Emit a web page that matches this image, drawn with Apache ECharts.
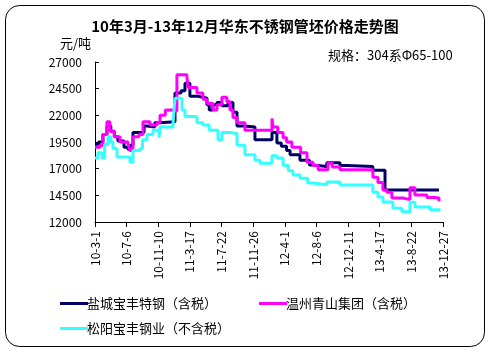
<!DOCTYPE html>
<html>
<head>
<meta charset="utf-8">
<script src="https://cdn.jsdelivr.net/npm/echarts@6/dist/echarts.min.js"></script>
<style>
  html, body { margin: 0; padding: 0; background: #fff; }
  #main { width: 490px; height: 352px; }
</style>
</head>
<body>
<div id="main"></div>
<script>
// x 轴按周计, 每 18 周一个刻度
var tickLabels = ['10-3-1', '10-7-6', '10-11-10', '11-3-17', '11-7-22', '11-11-26',
  '12-4-1', '12-8-6', '12-12-11', '13-4-17', '13-8-22', '13-12-27'];
var names = ['盐城宝丰特钢（含税）', '温州青山集团（含税）', '松阳宝丰钢业（不含税）'];

// [周, 元/吨]
var yancheng = [[0,19300],[2,19500],[4.5,20200],[6.8,21000],[9,20500],[11,20000],[13,19600],[16.5,19000],
  [18.8,18800],[20,19200],[21.6,20400],[27.9,21000],[29.6,20900],[34,21300],[37,21400],[45.5,24100],
  [49,24300],[51.2,25000],[54,23800],[58,23700],[61.4,23600],[63.7,23000],[65,22500],[67.1,23000],
  [69.4,23200],[72.2,22900],[75.7,23200],[78.5,22300],[80.8,21000],[85,20900],[91,19700],[100.7,20400],
  [103.5,19400],[106,19100],[109,18700],[111,18300],[116.6,17800],[122,17350],[124,17200],[131.9,17550],
  [139.4,17300],[143.3,17200],[158.1,16850],[165,15000],[195.7,15000]];
var wenzhou = [[0,19000],[2.8,19200],[4.5,20200],[6.8,21400],[8.5,20500],[11,20000],[14.2,19500],[18.8,19300],
  [19.9,18700],[21.6,20000],[25,20200],[27.3,21400],[31.3,21100],[35.3,21300],[37,22000],[40,22500],
  [44,22400],[46.6,25800],[52.3,25600],[53,24600],[58,24100],[61.4,23500],[63.7,23100],[67.1,22500],
  [69.4,23000],[72.2,23700],[75,23300],[76.8,22500],[78.5,21800],[80.8,21300],[85.3,20600],[100.7,21700],
  [101.3,20900],[104,20400],[107,19900],[109,19500],[112,19000],[117,18500],[120.6,17600],[124,17300],
  [127,16900],[132.5,17500],[135,17150],[139.4,16900],[154.7,16900],[158.1,16200],[161,15700],[163.8,15000],
  [166,14800],[168.9,14250],[175.2,14100],[179.2,15200],[182,14530],[188.9,14300],[193,14250],[195.7,13950]];
var songyang = [[0,18000],[1.7,18500],[4,18000],[5.5,19300],[7.4,20000],[9,19500],[10.2,18900],[12.5,18100],
  [19.9,17600],[21.6,18700],[25.6,18900],[27,19700],[29.6,20200],[33,20600],[36.4,19900],[37,20900],
  [44.4,21200],[45.5,23600],[49.5,22500],[51.2,21900],[58,21300],[61.4,21100],[65,20600],[70,19700],
  [72.2,20400],[76.8,20300],[80.8,19200],[85.3,18300],[91,17800],[93.9,17500],[100.7,18200],[103.5,18000],
  [107,17300],[110,16800],[112.6,16400],[116.6,16100],[121,15650],[124,15500],[131.9,15750],[139.4,15470],
  [154.7,15470],[158.1,14800],[161,14340],[163.8,13870],[169.5,13300],[174.6,12950],[179.2,13850],
  [182,13400],[190.6,13150],[194.5,13050],[195.7,13300]];

var colors = ['#000066', '#ff00ff', '#33ffff'];
var font = '"Noto Sans CJK SC", "DejaVu Sans", sans-serif';

var chart = echarts.init(document.getElementById('main'));

function mkSeries(i, data) {
  return {
    name: names[i],
    type: 'line',
    step: 'end',
    symbol: 'none',
    data: data,
    lineStyle: { color: colors[i], width: 3 },
    itemStyle: { color: colors[i] }
  };
}

var legendText = { fontSize: 13, color: '#000', padding: [0, 0, 0, -6] };

var option = {
  backgroundColor: '#fff',
  animation: false,
  textStyle: { fontFamily: font },
  title: [{
    text: '10年3月-13年12月华东不锈钢管坯价格走势图',
    left: 'center',
    top: 14,
    textStyle: { fontSize: 15, fontWeight: 'bold', color: '#000', fontFamily: font }
  }, {
    text: '元/吨',
    left: 55,
    top: 32,
    textStyle: { fontSize: 13, fontWeight: 'normal', color: '#000', fontFamily: font }
  }, {
    text: '规格：304系Φ65-100',
    left: 323,
    top: 44,
    textStyle: { fontSize: 13, fontWeight: 'normal', color: '#000', fontFamily: font }
  }],
  graphic: [{
    type: 'rect',
    shape: { x: 5.5, y: 5.5, width: 479, height: 341, r: 14 },
    style: { fill: 'none', stroke: '#000', lineWidth: 1 },
    silent: true
  }],
  legend: [{
    data: [names[0], names[1]],
    left: 55,
    top: 292,
    icon: 'rect',
    itemWidth: 28,
    itemHeight: 3,
    itemGap: 42,
    textStyle: legendText
  }, {
    data: [names[2]],
    left: 55,
    top: 317,
    icon: 'rect',
    itemWidth: 28,
    itemHeight: 3,
    textStyle: legendText
  }],
  grid: { left: 95, right: 47, top: 62, bottom: 130 },
  xAxis: {
    type: 'value',
    min: 0,
    max: 198,
    interval: 18,
    splitLine: { show: false },
    axisLine: { lineStyle: { color: '#000' } },
    axisTick: { lineStyle: { color: '#000' }, length: 5 },
    axisLabel: {
      rotate: 90,
      fontSize: 12,
      color: '#000',
      margin: 9,
      formatter: function (v) { return tickLabels[Math.round(v / 18)]; }
    }
  },
  yAxis: {
    type: 'value',
    min: 12000,
    max: 27000,
    interval: 2500,
    splitLine: { show: false },
    axisLine: { show: true, lineStyle: { color: '#000' } },
    axisTick: { show: true, inside: true, length: 4, lineStyle: { color: '#000' } },
    axisLabel: {
      fontSize: 12,
      color: '#000',
      margin: 13,
      formatter: function (v) { return String(v); }
    }
  },
  series: [mkSeries(0, yancheng), mkSeries(1, wenzhou), mkSeries(2, songyang)]
};

chart.setOption(option);
</script>
</body>
</html>
